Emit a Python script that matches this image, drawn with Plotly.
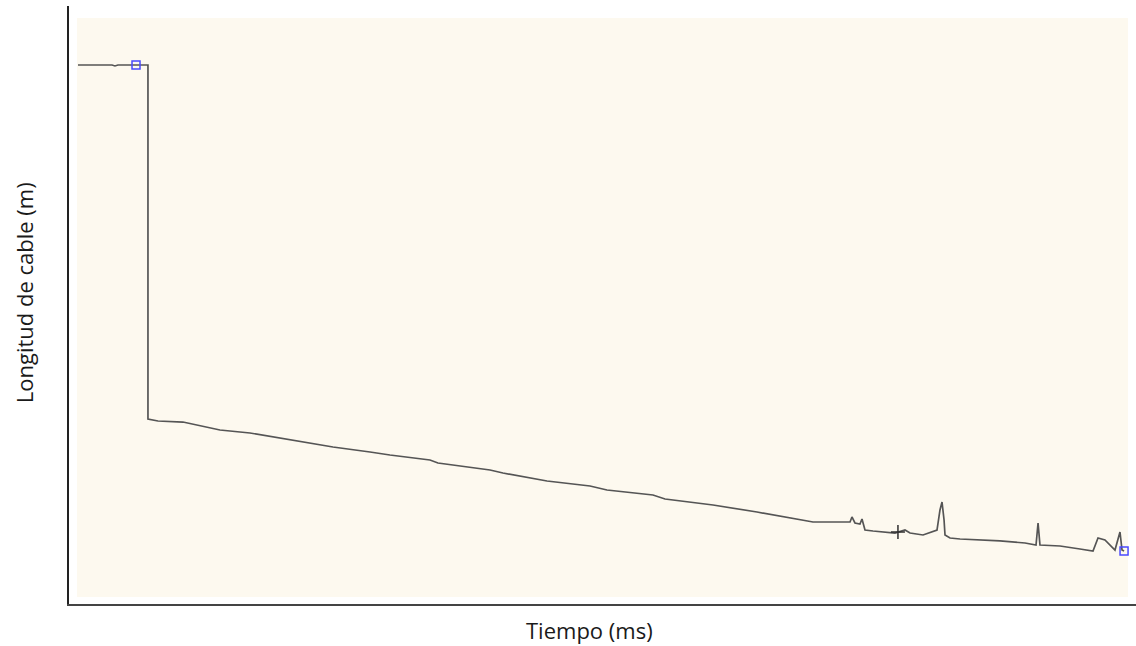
import plotly.graph_objects as go

# Time (ms) and cable length (m) (arbitrary units, no tick labels shown)
tiempo = [8.4, 40.3, 43.1, 45.9, 62.8, 74.0, 74.0, 83.4, 106.8, 141.5, 169.6, 197.8,
          247.4, 282.1, 300.8, 338.3, 345.8, 394.6, 406.7, 448.0, 488.3, 504.2, 547.3,
          558.6, 603.6, 644.8, 697.3, 732.0, 733.8, 736.6, 741.3, 743.2, 746.0, 753.5,
          762.9, 774.1, 783.5, 788.2, 800.4, 813.5, 816.3, 818.2, 820.1, 821.0, 825.7,
          835.1, 872.5, 896.0, 906.3, 908.2, 910.0, 928.8, 947.5, 959.7, 964.4, 970.9,
          980.3, 985.0, 986.9, 988.8]
longitud = [901.3, 901.3, 899.7, 901.3, 901.3, 901.3, 309.4, 306.0, 304.3, 291.0, 286.0, 277.6,
            262.5, 254.2, 249.2, 240.8, 235.8, 224.1, 219.1, 205.7, 197.3, 190.6, 182.3,
            175.6, 165.6, 153.8, 137.1, 137.1, 145.5, 135.5, 133.8, 142.1, 123.7, 122.1,
            120.4, 118.7, 123.7, 118.7, 115.4, 123.7, 157.2, 170.6, 140.5, 115.4, 110.4,
            108.7, 105.4, 102.0, 98.7, 135.5, 98.7, 97.0, 92.0, 88.6, 110.4, 107.0,
            90.3, 120.4, 90.3, 88.6]

# Cursor markers
cursor_t = [62.8, 988.8]
cursor_l = [901.3, 88.6]
cross_t = [776.9]
cross_l = [120.4]

fig = go.Figure()
fig.add_trace(go.Scatter(x=tiempo, y=longitud, mode="lines",
                         line=dict(color="#555555", width=1.7), showlegend=False,
                         hoverinfo="skip"))
fig.add_trace(go.Scatter(x=cross_t, y=cross_l, mode="markers",
                         marker=dict(symbol="cross-thin", size=10,
                                     line=dict(color="#303030", width=1.5)),
                         showlegend=False, hoverinfo="skip"))
fig.add_trace(go.Scatter(x=cursor_t, y=cursor_l, mode="markers",
                         marker=dict(symbol="square-open", size=8,
                                     line=dict(color="#4a4aff", width=1.5),
                                     color="#4a4aff"),
                         showlegend=False, hoverinfo="skip"))

fig.add_shape(type="rect", xref="paper", yref="paper",
              x0=0.0075, x1=0.9925, y0=0.0117, y1=0.98,
              fillcolor="#FDF9EF", line=dict(width=0), layer="below")

fig.add_annotation(text="Tiempo (ms)", xref="paper", yref="paper",
                   x=0.488, y=-0.0435, xanchor="center", yanchor="middle",
                   showarrow=False,
                   font=dict(family="Open Sans", size=22, color="#1a1a1a"))
fig.add_annotation(text="Longitud de cable (m)", xref="paper", yref="paper",
                   x=-0.042, y=0.52, xanchor="center", yanchor="middle",
                   showarrow=False, textangle=-90,
                   font=dict(family="Open Sans", size=22, color="#1a1a1a"))

axis_common = dict(showgrid=False, zeroline=False, showticklabels=False, ticks="",
                   showline=True, linewidth=2, mirror=False)
fig.update_xaxes(range=[0, 1000], linecolor="#444444", **axis_common)
fig.update_yaxes(range=[0, 1000], linecolor="#222222", **axis_common)

fig.update_layout(width=1136, height=646,
                  margin=dict(l=69, r=0, t=6, b=42),
                  paper_bgcolor="white", plot_bgcolor="white",
                  font=dict(family="Open Sans"))

fig.write_html("out.html")
